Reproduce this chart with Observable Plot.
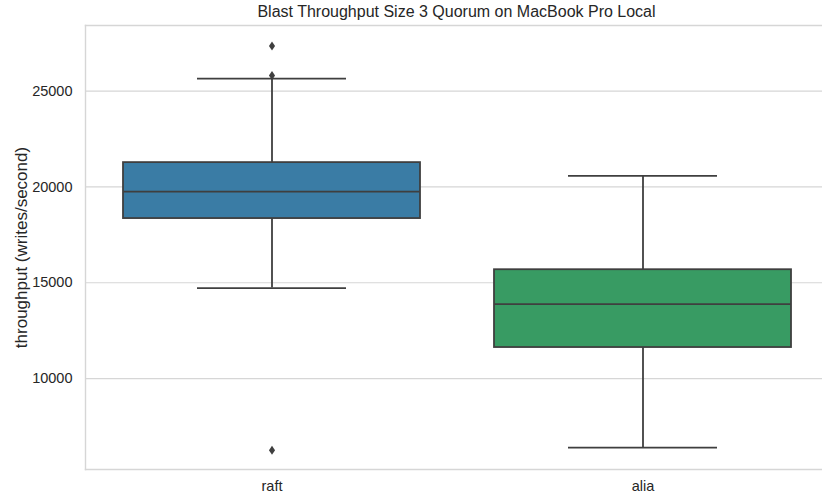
<!DOCTYPE html>
<html>
<head>
<meta charset="utf-8">
<script src="https://cdn.jsdelivr.net/npm/d3@7"></script>
<script src="https://cdn.jsdelivr.net/npm/@observablehq/plot@0.6"></script>
<style>
  html, body { margin: 0; padding: 0; background: #fff; overflow: hidden; }
  #title { height: 20px; line-height: 20px; margin-top: 2px; text-align: center; width: 913px;
           font-family: "Liberation Sans", Arial, sans-serif; font-size: 16px; color: #262626; }
</style>
</head>
<body>
<div id="title">Blast Throughput Size 3 Quorum on MacBook Pro Local</div>
<div id="chart"></div>
<script>
// Data
const categories = ["raft", "alia"];
const colors = ["#3a7ca5", "#389b63"];
const whiskerLow = [14720, 6400];
const q1 = [18350, 11620];
const median = [19760, 13880];
const q3 = [21270, 15680];
const whiskerHigh = [25650, 20575];
const outlierGroup = ["raft", "raft", "raft"];
const outlierValue = [27350, 25820, 6260];
const yTicks = [10000, 15000, 20000, 25000];

const boxes = categories.map((c, i) => ({
  cat: c, color: colors[i], lo: whiskerLow[i], q1: q1[i], med: median[i], q3: q3[i], hi: whiskerHigh[i]
}));
const outliers = outlierGroup.map((c, i) => ({cat: c, v: outlierValue[i]}));

const ink = "#3f3f3f";
const gridColor = "#d6d6d6";
const thinDiamond = {
  draw(ctx, size) {
    const r = Math.sqrt(size / Math.PI);
    const w = r * 0.68;
    ctx.moveTo(0, -r); ctx.lineTo(w, 0); ctx.lineTo(0, r); ctx.lineTo(-w, 0); ctx.closePath();
  }
};

const boxInset = 37;
const capInset = 111;

const chart = Plot.plot({
  width: 822,
  height: 475,
  marginTop: 3,
  marginBottom: 28,
  marginLeft: 85,
  marginRight: 0,
  style: {fontFamily: "Liberation Sans, Arial, sans-serif", fontSize: "14.5px", color: "#262626", background: "#fff"},
  x: {domain: categories, range: [85, 828], padding: 0},
  y: {domain: [5255, 28425]},
  marks: [
    Plot.gridY(yTicks, {stroke: gridColor, strokeOpacity: 1, strokeWidth: 1.2}),
    Plot.frame({anchor: "left", stroke: gridColor, strokeWidth: 1.4}),
    Plot.frame({anchor: "top", stroke: gridColor, strokeWidth: 1.4}),
    Plot.frame({anchor: "bottom", stroke: gridColor, strokeWidth: 1.4}),
    Plot.axisY(yTicks, {tickSize: 0, tickPadding: 13, fontSize: 14.5, label: null, tickFormat: d => String(d)}),
    Plot.axisY({tickSize: 0, ticks: [], fontSize: 17, label: "throughput (writes/second)",
      labelAnchor: "center", labelArrow: "none", labelOffset: 71, dy: 3}),
    Plot.axisX({tickSize: 0, tickPadding: 11, fontSize: 14.5, label: null}),
    Plot.ruleX(boxes, {x: "cat", y1: "lo", y2: "q1", stroke: ink, strokeWidth: 1.8}),
    Plot.ruleX(boxes, {x: "cat", y1: "q3", y2: "hi", stroke: ink, strokeWidth: 1.8}),
    Plot.tickY(boxes, {x: "cat", y: "lo", stroke: ink, strokeWidth: 1.8, insetLeft: capInset, insetRight: capInset}),
    Plot.tickY(boxes, {x: "cat", y: "hi", stroke: ink, strokeWidth: 1.8, insetLeft: capInset, insetRight: capInset}),
    Plot.barY(boxes, {x: "cat", y1: "q1", y2: "q3", fill: "color", stroke: ink, strokeWidth: 1.8, insetLeft: boxInset, insetRight: boxInset}),
    Plot.tickY(boxes, {x: "cat", y: "med", stroke: ink, strokeWidth: 1.8, insetLeft: boxInset, insetRight: boxInset}),
    Plot.dot(outliers, {x: "cat", y: "v", symbol: thinDiamond, r: 4.5, fill: ink, stroke: "none"})
  ]
});
document.getElementById("chart").appendChild(chart);
</script>
</body>
</html>
